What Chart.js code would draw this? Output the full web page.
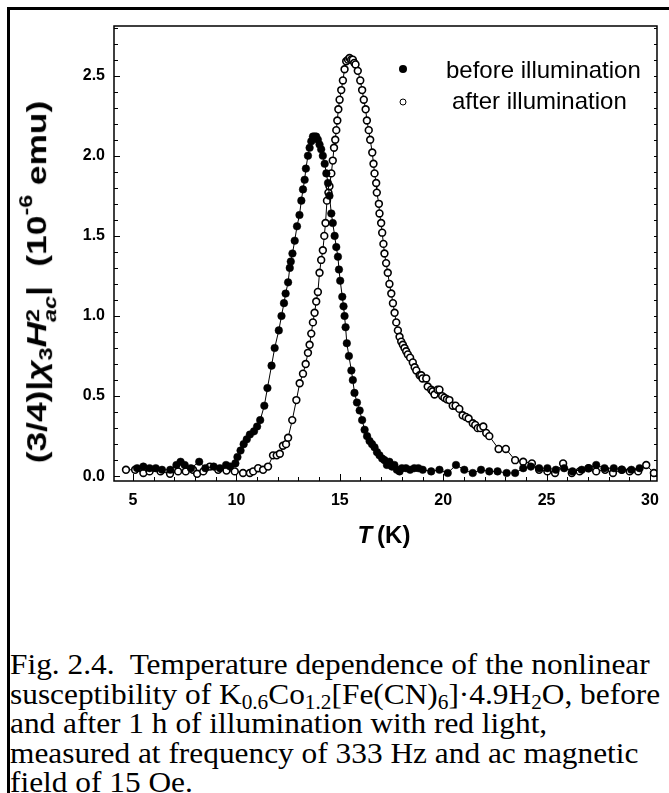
<!DOCTYPE html>
<html><head><meta charset="utf-8">
<script src="https://cdn.jsdelivr.net/npm/chart.js@4.4.1/dist/chart.umd.min.js"></script>
<style>
html,body{margin:0;padding:0;background:#fff;}
body{width:669px;height:793px;position:relative;overflow:hidden;font-family:'Liberation Sans',Arial,sans-serif;color:#000;}
#frame{position:absolute;left:7px;top:7px;width:662px;height:786px;border-top:3px solid #000;border-left:3px solid #000;box-sizing:border-box;}
#wrap{position:absolute;left:0;top:0;width:669px;height:540px;}
#ylab{position:absolute;left:41px;top:282px;transform:translate(-50%,-50%) rotate(-90deg) scaleX(1.26);white-space:nowrap;font:bold 28px 'Liberation Sans',Arial,sans-serif;line-height:1;}
#ylab .ss{display:inline-block;vertical-align:-0.55em;line-height:0.95;font-size:0.66em;}
#ylab .ss span{display:block;}
#ylab sup{font-size:0.66em;vertical-align:0.75em;line-height:0;}
#ylab sub{font-size:0.66em;vertical-align:-0.35em;line-height:0;}
#xlab{position:absolute;left:384px;top:535px;transform:translate(-50%,-50%);white-space:nowrap;font:bold 24px 'Liberation Sans',Arial,sans-serif;}
.leg{position:absolute;white-space:nowrap;font:24px 'Liberation Sans',Arial,sans-serif;transform:translateY(-50%);}
.mk{position:absolute;border-radius:50%;box-sizing:border-box;transform:translate(-50%,-50%);}
#cap{position:absolute;left:10px;top:649px;font:30px 'Liberation Serif','Times New Roman',serif;line-height:29.5px;white-space:nowrap;transform:scaleX(1.045);transform-origin:left top;}
#cap sub{font-size:0.68em;vertical-align:-0.25em;line-height:0;}
</style>
</head><body>
<div id="frame"></div>
<div id="wrap"><canvas id="c" width="669" height="540"></canvas></div>
<div id="ylab">(3/4)|<i>χ</i><sub>3</sub><i>H</i><span class="ss"><span>2</span><span><i>ac</i></span></span>|&nbsp;&nbsp;(10<sup>-6</sup> emu)</div>
<div id="xlab"><i>T</i>&thinsp;(K)</div>
<div class="mk" style="left:403px;top:69px;width:8px;height:8px;background:#000;"></div>
<div class="leg" style="left:446px;top:70px;" id="leg0"></div>
<div class="mk" style="left:403px;top:102px;width:7px;height:7px;background:#fff;border:1.5px solid #000;"></div>
<div class="leg" style="left:452px;top:101px;" id="leg1"></div>
<div id="cap">Fig. 2.4.&nbsp; Temperature dependence of the nonlinear<br>susceptibility of K<sub>0.6</sub>Co<sub>1.2</sub>[Fe(CN)<sub>6</sub>]·4.9H<sub>2</sub>O, before<br>and after 1 h of illumination with red light,<br>measured at frequency of 333 Hz and ac magnetic<br>field of 15 Oe.</div>
<script>
// ---- data ----
const seriesNames = ['before illumination', 'after illumination'];

const beforeT = [5.2,5.5,5.8,6.1,6.4,6.8,7.1,7.3,7.5,7.8,8.2,8.5,8.9,9.2,9.5,9.7,9.95,
  10.05,10.2,10.35,10.5,10.65,10.85,11.0,11.15,11.35,11.5,11.7,11.85,12.05,12.18,12.3,12.38,12.5,12.58,12.63,12.71,12.82,12.93,13.05,13.14,13.22,13.3,13.36,13.46,13.54,13.62,13.7,13.78,13.86,13.94,14.02,14.1,14.18,14.27,14.35,14.43,14.5,14.59,14.66,14.75,14.83,14.91,14.96,15.02,15.12,15.18,15.23,15.28,15.34,15.44,15.56,15.63,15.71,15.83,15.96,16.08,16.2,16.32,16.44,16.56,16.68,16.8,16.92,17.05,17.16,17.28,17.4,17.52,17.64,17.76,17.89,18.0,18.2,18.4,18.6,18.8,19.01,19.42,19.82,20.22,20.62,21.02,21.43,21.83,22.23,22.63,23.07,23.48,23.87,24.24,24.64,25.04,25.45,25.85,26.25,26.7,27.05,27.4,27.8,28.25,28.65,29.1,29.5];
const beforeV = [0.05,0.06,0.05,0.05,0.04,0.04,0.07,0.09,0.07,0.05,0.09,0.05,0.06,0.05,0.07,0.06,0.08,
  0.12,0.16,0.2,0.23,0.26,0.28,0.31,0.35,0.44,0.55,0.69,0.80,0.91,1.0,1.08,1.14,1.21,1.3,1.34,1.39,1.47,1.56,1.63,1.72,1.79,1.85,1.92,2.0,2.05,2.09,2.12,2.12,2.12,2.1,2.07,2.04,2.0,1.95,1.89,1.83,1.75,1.64,1.58,1.5,1.43,1.37,1.29,1.22,1.12,1.06,1.0,0.93,0.83,0.75,0.66,0.6,0.52,0.46,0.41,0.35,0.29,0.25,0.22,0.2,0.18,0.15,0.13,0.11,0.1,0.07,0.09,0.06,0.07,0.04,0.03,0.05,0.05,0.04,0.05,0.05,0.04,0.03,0.04,0.02,0.07,0.04,0.02,0.04,0.03,0.03,0.02,0.02,0.05,0.06,0.05,0.05,0.04,0.05,0.03,0.04,0.05,0.07,0.05,0.05,0.04,0.04,0.05];

const afterT = [4.66,5.1,5.5,5.8,6.33,6.79,7.18,7.55,7.9,8.1,8.4,8.72,9.12,9.52,9.92,10.32,10.65,10.81,11.05,11.29,11.53,11.77,11.95,12.1,12.25,12.4,12.5,12.7,12.9,13.06,13.22,13.35,13.46,13.54,13.62,13.7,13.78,13.86,13.94,14.02,14.1,14.18,14.25,14.31,14.38,14.45,14.5,14.59,14.66,14.72,14.78,14.83,14.88,14.93,14.99,15.07,15.15,15.23,15.31,15.4,15.47,15.55,15.63,15.7,15.76,15.87,15.99,16.08,16.16,16.25,16.31,16.4,16.47,16.57,16.63,16.68,16.76,16.79,16.89,16.92,17.0,17.05,17.11,17.16,17.24,17.32,17.4,17.49,17.57,17.65,17.73,17.81,17.89,17.97,18.05,18.13,18.21,18.29,18.4,18.53,18.62,18.7,18.86,18.94,19.0,19.18,19.25,19.42,19.49,19.58,19.73,19.82,19.95,20.06,20.18,20.3,20.46,20.6,20.78,20.94,21.1,21.23,21.43,21.55,21.67,21.8,21.94,22.08,22.23,22.68,23.03,23.48,23.87,24.29,24.64,25.04,25.41,25.8,26.22,26.6,27.02,27.4,27.83,28.21,28.63,29.02,29.43,29.82,30.19];
const afterV = [0.04,0.04,0.02,0.03,0.03,0.015,0.03,0.03,0.04,0.015,0.03,0.06,0.04,0.035,0.03,0.02,0.02,0.03,0.05,0.04,0.06,0.13,0.13,0.14,0.19,0.2,0.24,0.35,0.475,0.58,0.64,0.7,0.77,0.82,0.89,0.96,1.02,1.09,1.15,1.27,1.35,1.41,1.5,1.58,1.72,1.77,1.81,1.89,1.97,2.05,2.1,2.16,2.22,2.29,2.35,2.41,2.47,2.54,2.59,2.6,2.61,2.6,2.6,2.58,2.57,2.53,2.47,2.41,2.35,2.29,2.22,2.16,2.1,2.02,1.95,1.89,1.83,1.77,1.7,1.64,1.58,1.52,1.45,1.39,1.33,1.27,1.2,1.14,1.08,1.02,0.96,0.91,0.87,0.84,0.82,0.8,0.78,0.76,0.74,0.71,0.68,0.66,0.63,0.63,0.61,0.61,0.56,0.54,0.53,0.51,0.54,0.54,0.5,0.49,0.48,0.475,0.44,0.44,0.42,0.38,0.37,0.36,0.33,0.32,0.3,0.3,0.31,0.27,0.25,0.17,0.17,0.1,0.09,0.08,0.04,0.03,0.02,0.08,0.02,0.03,0.05,0.03,0.04,0.02,0.04,0.03,0.03,0.07,0.02];

const xMajorLabels = [5, 10, 15, 20, 25, 30];
const yMajorLabels = [0.0, 0.5, 1.0, 1.5, 2.0, 2.5];
const xMinorStep = 1;
const yMinorStep = 0.1;

// ---- chart ----
document.getElementById('leg0').textContent = seriesNames[0];
document.getElementById('leg1').textContent = seriesNames[1];

const X_MIN = 4.08, X_MAX = 30.34, Y_MIN = -0.03, Y_MAX = 2.81;
function stepTicks(lo, hi, step){
  const out = [];
  const n0 = Math.ceil(lo/step - 1e-9), n1 = Math.floor(hi/step + 1e-9);
  for (let n = n0; n <= n1; n++) out.push(+(n*step).toFixed(4));
  return out;
}
const isMajor = (v, list) => list.some(m => Math.abs(m - v) < 1e-6);

const frameTicks = {
  id: 'frameTicks',
  afterDatasetsDraw(chart){
    const {ctx, chartArea:a, scales:{x, y}} = chart;
    ctx.save();
    ctx.strokeStyle = '#000';
    ctx.lineWidth = 1.5;
    ctx.strokeRect(a.left, a.top, a.right - a.left, a.bottom - a.top);
    ctx.lineWidth = 1;
    ctx.beginPath();
    x.ticks.forEach(t => {
      const px = Math.round(x.getPixelForValue(t.value)) + 0.5;
      const L = isMajor(t.value, xMajorLabels) ? 7 : 4;
      ctx.moveTo(px, a.bottom); ctx.lineTo(px, a.bottom - L);
    });
    y.ticks.forEach(t => {
      const py = Math.round(y.getPixelForValue(t.value)) + 0.5;
      const L = isMajor(t.value, yMajorLabels) ? 6 : 4;
      ctx.moveTo(a.left, py); ctx.lineTo(a.left + L, py);
      ctx.moveTo(a.right, py); ctx.lineTo(a.right - 3, py);
    });
    ctx.stroke();
    ctx.restore();
  }
};

const tickFont = {family: "'Liberation Sans', Arial, sans-serif", size: 16, weight: 'bold'};

new Chart(document.getElementById('c'), {
  type: 'scatter',
  data: {
    datasets: [
      {
        label: seriesNames[0],
        data: beforeT.map((t, i) => ({x: t, y: beforeV[i]})),
        showLine: true,
        borderColor: '#000', borderWidth: 1,
        pointRadius: 3.8, pointBackgroundColor: '#000', pointBorderColor: '#000', pointBorderWidth: 0.5,
        tension: 0
      },
      {
        label: seriesNames[1],
        data: afterT.map((t, i) => ({x: t, y: afterV[i]})),
        showLine: true,
        borderColor: '#000', borderWidth: 1,
        pointRadius: 3.4, pointBackgroundColor: '#fff', pointBorderColor: '#000', pointBorderWidth: 1.6,
        tension: 0
      }
    ]
  },
  options: {
    responsive: false, animation: false, devicePixelRatio: 1,
    layout: {padding: {top: 26, right: 11, left: 0, bottom: 0}},
    plugins: {legend: {display: false}, tooltip: {enabled: false}},
    scales: {
      x: {
        type: 'linear', min: X_MIN, max: X_MAX,
        grid: {display: false, drawTicks: false}, border: {display: false},
        afterBuildTicks: s => { s.ticks = stepTicks(X_MIN, X_MAX, xMinorStep).map(v => ({value: v})); },
        afterFit: s => { s.height = 59; },
        ticks: {
          autoSkip: false, maxRotation: 0, padding: 10, color: '#000', font: tickFont,
          callback: v => isMajor(v, xMajorLabels) ? String(Math.round(v)) : ''
        }
      },
      y: {
        type: 'linear', min: Y_MIN, max: Y_MAX,
        grid: {display: false, drawTicks: false}, border: {display: false},
        afterBuildTicks: s => { s.ticks = stepTicks(0, Y_MAX, yMinorStep).map(v => ({value: v})); },
        afterFit: s => { s.width = 114; },
        ticks: {
          autoSkip: false, padding: 9, color: '#000', font: tickFont,
          callback: v => isMajor(v, yMajorLabels) ? v.toFixed(1) : ''
        }
      }
    }
  },
  plugins: [frameTicks]
});
</script>
</body></html>
